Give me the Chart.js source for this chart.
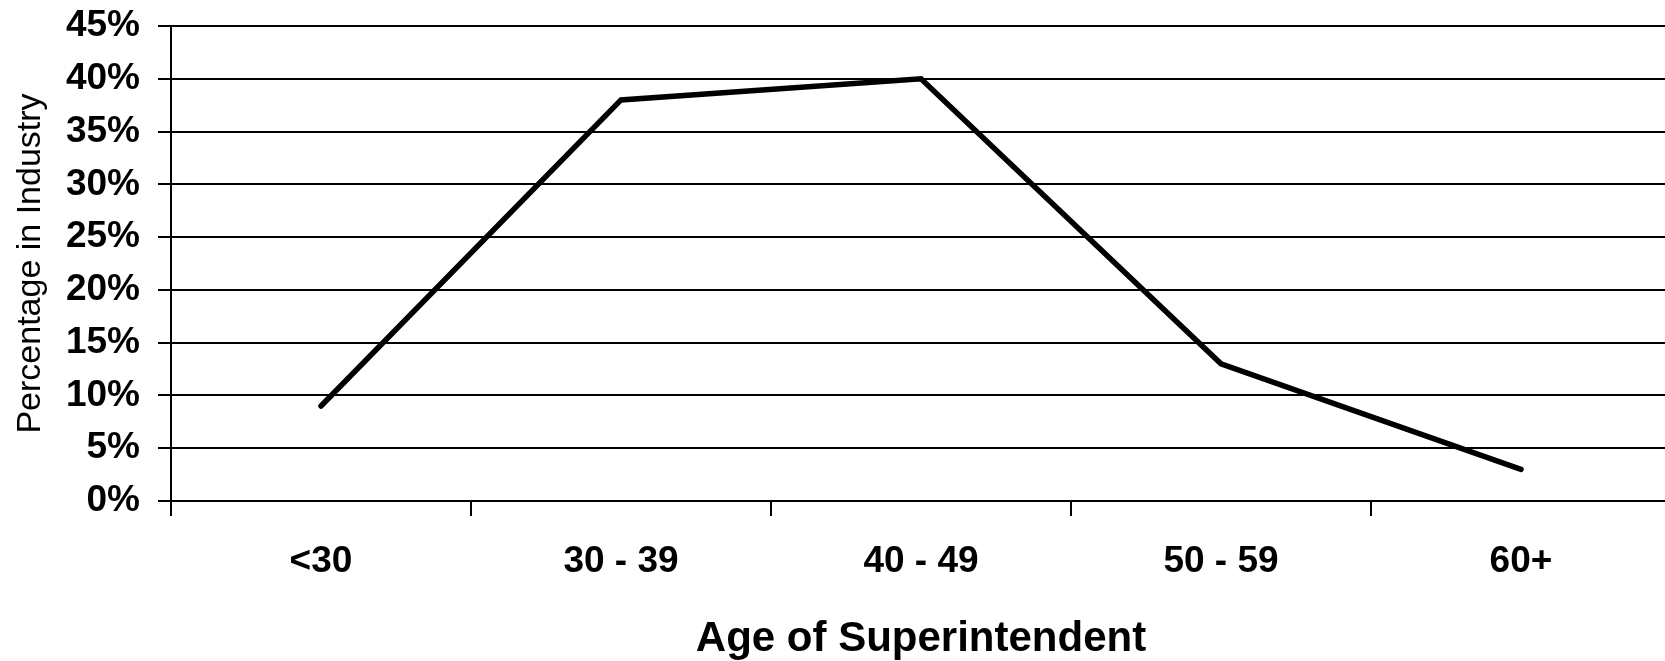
<!DOCTYPE html>
<html>
<head>
<meta charset="utf-8">
<script src="https://cdn.jsdelivr.net/npm/chart.js@4/dist/chart.umd.min.js"></script>
<style>
    html, body { margin: 0; padding: 0; overflow: hidden; background: #fff; }
</style>
</head>
<body>
<canvas id="ageChart" width="1680" height="661"></canvas>
<script>
// Chart values
var ageGroups = ['<30', '30 - 39', '40 - 49', '50 - 59', '60+'];
var percentInIndustry = [9, 38, 40, 13, 3];
var yMin = 0;
var yMax = 45;
var yStep = 5;

var fontFamily = '"Liberation Sans", Arial, sans-serif';

var ctx = document.getElementById('ageChart').getContext('2d');
new Chart(ctx, {
    type: 'line',
    data: {
        labels: ageGroups,
        datasets: [{
            label: 'Percentage in Industry',
            data: percentInIndustry,
            borderColor: '#000',
            borderWidth: 5.5,
            borderCapStyle: 'round',
            borderJoinStyle: 'miter',
            pointRadius: 0,
            tension: 0,
            fill: false
        }]
    },
    options: {
        responsive: false,
        animation: false,
        layout: {
            padding: { top: 26, right: 9, bottom: 0, left: 0 }
        },
        plugins: {
            legend: { display: false },
            tooltip: { enabled: false }
        },
        scales: {
            x: {
                offset: true,
                grid: {
                    offset: true,
                    drawOnChartArea: false,
                    drawTicks: true,
                    tickLength: 15,
                    color: '#000',
                    lineWidth: 2
                },
                border: { display: true, color: '#000', width: 2 },
                ticks: {
                    color: '#000',
                    padding: 24,
                    maxRotation: 0,
                    font: { family: fontFamily, size: 37, weight: 'bold' }
                },
                title: {
                    display: true,
                    text: 'Age of Superintendent',
                    color: '#000',
                    padding: { top: 33, bottom: 0 },
                    font: { family: fontFamily, size: 42, weight: 'bold', lineHeight: 1.05 }
                },
                afterFit: function(scale) {
                    scale.height = 160;
                    scale.paddingLeft = 0;
                    scale.paddingRight = 0;
                }
            },
            y: {
                min: yMin,
                max: yMax,
                grid: {
                    color: '#000',
                    lineWidth: 2,
                    tickLength: 13
                },
                border: { display: true, color: '#000', width: 2 },
                ticks: {
                    stepSize: yStep,
                    color: '#000',
                    padding: 18,
                    font: { family: fontFamily, size: 37, weight: 'bold' },
                    callback: function(value) { return value + '%'; }
                },
                title: {
                    display: true,
                    text: 'Percentage in Industry',
                    color: '#000',
                    padding: { top: 10, bottom: 10 },
                    font: { family: fontFamily, size: 34, weight: 'normal', lineHeight: 1.2 }
                },
                afterFit: function(scale) {
                    scale.width = 171;
                    scale.paddingTop = 0;
                    scale.paddingBottom = 0;
                }
            }
        }
    }
});
</script>
</body>
</html>
